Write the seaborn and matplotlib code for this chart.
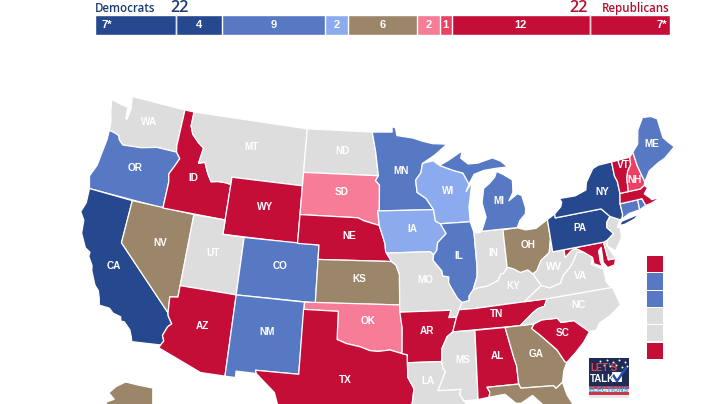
import matplotlib
matplotlib.use('Agg')
import matplotlib.pyplot as plt
import numpy as np
import seaborn as sns

sns.set_theme(style='white')
plt.rcParams['font.family'] = ['Open Sans', 'DejaVu Sans']

DARK = '#26488f'
BLUE = '#5778c2'
LIGHT = '#8cabee'
TAN = '#9c8669'
PINK = '#f67c97'
MIDRED = '#ee4062'
RED = '#c40e37'
GREY = '#dddddd'

# seat counts along the top bar
seat_labels = ['7*', '4', '9', '2', '6', '2', '1', '12', '7*']
seat_values = [7, 4, 9, 2, 6, 2, 1, 12, 7]
seat_colors = [DARK, DARK, BLUE, LIGHT, TAN, PINK, MIDRED, RED, RED]
dem_total = 22
rep_total = 22

# the column of squares on the right
special_colors = [RED, BLUE, BLUE, GREY, GREY, RED]

state_colors = {
    'WA': GREY, 'OR': BLUE, 'CA': DARK, 'NV': TAN, 'ID': RED, 'MT': GREY, 'WY': RED, 'UT': GREY,
    'CO': BLUE, 'AZ': RED, 'NM': BLUE, 'ND': GREY, 'SD': PINK, 'NE': RED, 'KS': TAN, 'OK': PINK,
    'TX': RED, 'MN': BLUE, 'IA': LIGHT, 'MO': GREY, 'AR': RED, 'LA': GREY, 'WI': LIGHT, 'IL': BLUE,
    'IN': GREY, 'OH': TAN, 'KY': GREY, 'TN': RED, 'MS': GREY, 'AL': RED, 'GA': TAN, 'FL': TAN,
    'SC': RED, 'NC': GREY, 'VA': GREY, 'WV': GREY, 'MD': RED, 'DE': GREY, 'PA': DARK, 'NJ': GREY,
    'NY': DARK, 'LI': DARK, 'CT': BLUE, 'RI': BLUE, 'MA': RED, 'VT': RED, 'NH': MIDRED, 'ME': BLUE,
    'MI': BLUE, 'UP': BLUE,
}

# rough state outlines, lon/lat
outlines = {
    'WA': [(-124.7,48.38),(-123.2,48.2),(-122.85,48.2),(-122.75,47.4),(-122.6,47.35),(-122.5,48.2),(-122.75,49),(-117.03,49),(-117.04,46.42),(-116.92,45.99),(-118.98,46),(-119.3,45.93),(-120.5,45.7),(-121.2,45.65),(-122.3,45.55),(-122.8,45.85),(-122.95,46.1),(-123.4,46.2),(-124,46.27),(-124.1,46.9),(-124.4,47.5)],
    'OR': [(-124,46.27),(-123.4,46.2),(-122.95,46.1),(-122.8,45.85),(-122.3,45.55),(-121.2,45.65),(-120.5,45.7),(-119.3,45.93),(-118.98,46),(-116.92,45.99),(-116.47,45.6),(-116.85,44.95),(-117.2,44.4),(-117.03,43.85),(-117.03,42),(-124.2,42),(-124.55,42.84),(-124.15,43.7),(-124.05,44.7),(-123.95,45.6)],
    'CA': [(-124.2,42),(-120,42),(-120,39),(-114.63,35),(-114.57,34.8),(-114.14,34.3),(-114.43,34.05),(-114.72,33.4),(-114.52,33.03),(-114.72,32.72),(-117.12,32.53),(-117.25,32.85),(-117.5,33.3),(-118.1,33.75),(-118.4,33.75),(-118.5,34.03),(-119.2,34.15),(-119.6,34.42),(-120.5,34.45),(-120.65,34.9),(-120.9,35.4),(-121.3,35.7),(-121.9,36.6),(-122,36.95),(-122.5,37.5),(-122.5,37.8),(-123,38),(-123.7,38.9),(-123.85,39.8),(-124.35,40.3),(-124.1,41)],
    'NV': [(-120,42),(-114.04,42),(-114.05,36.2),(-114.75,36.1),(-114.63,35),(-120,39)],
    'ID': [(-117.03,49),(-116.05,49),(-116.05,48),(-115.7,47.45),(-114.95,46.95),(-114.35,46.65),(-114.55,45.55),(-113.95,45.7),(-113.45,44.95),(-113,44.45),(-112.3,44.55),(-111.5,44.55),(-111.05,44.48),(-111.05,42),(-117.03,42),(-117.03,43.85),(-117.2,44.4),(-116.85,44.95),(-116.47,45.6),(-116.92,45.99),(-117.04,46.42)],
    'MT': [(-116.05,49),(-104.05,49),(-104.05,45),(-111.05,45),(-111.05,44.48),(-111.5,44.55),(-112.3,44.55),(-113,44.45),(-113.45,44.95),(-113.95,45.7),(-114.55,45.55),(-114.35,46.65),(-114.95,46.95),(-115.7,47.45),(-116.05,48)],
    'WY': [(-111.05,45),(-104.05,45),(-104.05,41),(-111.05,41)],
    'UT': [(-114.04,42),(-111.05,42),(-111.05,41),(-109.05,41),(-109.05,37),(-114.05,37)],
    'CO': [(-109.05,41),(-102.05,41),(-102.05,37),(-109.05,37)],
    'AZ': [(-114.05,37),(-109.05,37),(-109.05,31.33),(-111.07,31.33),(-114.81,32.5),(-114.72,32.72),(-114.52,33.03),(-114.72,33.4),(-114.43,34.05),(-114.14,34.3),(-114.57,34.8),(-114.63,35),(-114.75,36.1),(-114.05,36.2)],
    'NM': [(-109.05,37),(-103,37),(-103.04,32),(-106.62,32),(-106.53,31.78),(-108.2,31.78),(-108.2,31.33),(-109.05,31.33)],
    'ND': [(-104.05,49),(-97.23,49),(-96.85,47.6),(-96.56,45.94),(-104.05,45.94)],
    'SD': [(-104.05,45.94),(-96.56,45.94),(-96.85,45.6),(-96.45,45.3),(-96.45,43.5),(-96.6,43.5),(-96.45,42.49),(-97.9,42.8),(-98.5,43),(-104.05,43)],
    'NE': [(-104.05,43),(-98.5,43),(-97.9,42.8),(-96.45,42.49),(-96.1,41.7),(-95.9,41.2),(-95.85,40.7),(-95.31,40),(-102.05,40),(-102.05,41),(-104.05,41)],
    'KS': [(-102.05,40),(-95.31,40),(-94.9,39.75),(-94.6,39.1),(-94.62,37),(-102.05,37)],
    'OK': [(-103,37),(-94.62,37),(-94.43,35.4),(-94.48,33.64),(-95.5,33.9),(-96.5,33.8),(-97.2,33.85),(-98,34.1),(-99.2,34.3),(-100,34.56),(-100,36.5),(-103,36.5)],
    'TX': [(-106.62,32),(-103.04,32),(-103.04,36.5),(-100,36.5),(-100,34.56),(-99.2,34.3),(-98,34.1),(-97.2,33.85),(-96.5,33.8),(-95.5,33.9),(-94.48,33.64),(-94.04,33.55),(-94.04,32),(-93.55,31.2),(-93.7,30.3),(-93.85,29.7),(-94.7,29.35),(-95.3,28.9),(-96.4,28.4),(-97.2,27.7),(-97.4,26.9),(-97.15,25.96),(-98.2,26.05),(-99.1,26.4),(-99.5,27.5),(-100.3,28.3),(-100.8,29.25),(-101.4,29.77),(-102.3,29.88),(-102.7,29.7),(-103.15,28.98),(-104,29.3),(-104.5,29.65),(-104.9,30.6),(-106,31.4),(-106.53,31.78)],
    'MN': [(-97.23,49),(-95.15,49),(-95.15,49.38),(-94.8,49.3),(-94.65,48.75),(-93,48.55),(-92,48.3),(-91,48.1),(-89.5,48),(-90.8,47.3),(-92.1,46.75),(-92.3,46.1),(-92.85,45.6),(-92.75,44.75),(-91.9,44.3),(-91.22,43.5),(-96.45,43.5),(-96.45,45.3),(-96.85,45.6),(-96.56,45.94),(-96.85,47.6)],
    'IA': [(-96.45,43.5),(-91.22,43.5),(-91.1,42.7),(-90.64,42.5),(-90.15,41.8),(-91,41.2),(-91.1,40.7),(-91.42,40.38),(-91.73,40.61),(-95.77,40.58),(-95.85,40.7),(-95.9,41.2),(-96.1,41.7),(-96.45,42.49),(-96.6,43.5)],
    'MO': [(-95.77,40.58),(-91.73,40.61),(-91.42,40.38),(-91.5,40),(-90.75,39.25),(-90.7,38.9),(-90.15,38.8),(-90.2,38.4),(-89.9,37.9),(-89.5,37.3),(-89.13,36.98),(-89.42,36.5),(-89.7,36),(-90.37,36),(-90.15,36.5),(-94.62,36.5),(-94.62,37),(-94.6,39.1),(-94.9,39.75),(-95.31,40)],
    'AR': [(-94.62,36.5),(-90.15,36.5),(-90.37,36),(-89.7,36),(-90.1,35),(-90.6,34.7),(-91.1,33.9),(-91.17,33),(-94.04,33),(-94.04,33.55),(-94.48,33.64),(-94.43,35.4)],
    'LA': [(-94.04,33),(-91.17,33),(-91.1,32.5),(-90.9,32.3),(-91.6,31),(-89.73,31),(-89.85,30.65),(-89.55,30.18),(-89.4,30.05),(-89.4,29.75),(-89.2,29.3),(-89.6,29.25),(-90.2,29.1),(-91.3,29.3),(-91.8,29.5),(-92.3,29.55),(-93.2,29.78),(-93.85,29.7),(-93.7,30.3),(-93.55,31.2),(-94.04,32)],
    'WI': [(-92.1,46.75),(-91,46.9),(-90.4,46.55),(-89.1,46.15),(-88.1,45.9),(-87.6,45.1),(-87.95,44.6),(-87.3,45.2),(-87.5,44.5),(-87.8,43.5),(-87.8,42.49),(-90.64,42.5),(-91.1,42.7),(-91.22,43.5),(-91.9,44.3),(-92.75,44.75),(-92.85,45.6),(-92.3,46.1)],
    'IL': [(-90.64,42.5),(-87.8,42.49),(-87.53,41.72),(-87.53,39.35),(-87.6,38.7),(-88.05,37.8),(-88.45,37.4),(-88.5,37.07),(-89.13,36.98),(-89.5,37.3),(-89.9,37.9),(-90.2,38.4),(-90.15,38.8),(-90.7,38.9),(-90.75,39.25),(-91.5,40),(-91.42,40.38),(-91.1,40.7),(-91,41.2),(-90.15,41.8)],
    'IN': [(-87.53,41.72),(-87,41.67),(-86.8,41.76),(-84.8,41.76),(-84.82,39.1),(-85.2,38.7),(-85.45,38.7),(-85.75,38.27),(-86.3,38.1),(-86.8,37.95),(-87.6,37.9),(-88.05,37.8),(-87.6,38.7),(-87.53,39.35)],
    'OH': [(-84.8,41.7),(-83.45,41.73),(-82.7,41.5),(-81.7,41.5),(-80.52,41.98),(-80.52,40.64),(-80.85,39.7),(-81.7,39.25),(-82.2,38.6),(-82.6,38.42),(-83,38.73),(-83.7,38.63),(-84.3,38.95),(-84.82,39.1)],
    'KY': [(-89.42,36.5),(-89.13,36.98),(-88.5,37.07),(-88.45,37.4),(-88.05,37.8),(-87.6,37.9),(-86.8,37.95),(-86.3,38.1),(-85.75,38.27),(-85.45,38.7),(-85.2,38.7),(-84.82,39.1),(-84.3,38.95),(-83.7,38.63),(-83,38.73),(-82.6,38.42),(-82,37.55),(-83.68,36.6),(-88.07,36.5)],
    'TN': [(-90.1,35),(-89.7,36),(-89.42,36.5),(-88.07,36.5),(-83.68,36.6),(-81.68,36.59),(-82,36.1),(-82.6,36),(-83.1,35.75),(-84.3,35)],
    'MS': [(-90.1,35),(-88.2,35),(-88.4,30.2),(-89.55,30.18),(-89.85,30.65),(-89.73,31),(-91.6,31),(-90.9,32.3),(-91.1,32.5),(-91.17,33),(-91.1,33.9),(-90.6,34.7)],
    'AL': [(-88.2,35),(-85.6,35),(-85.15,32.85),(-85,32.3),(-85,31),(-87.6,31),(-87.4,30.65),(-87.5,30.3),(-88,30.25),(-88.4,30.2)],
    'GA': [(-85.6,35),(-83.1,35),(-83.35,34.7),(-82.75,34.2),(-81.5,33),(-81,32.1),(-80.85,32.03),(-81.2,31.5),(-81.45,30.72),(-82.05,30.36),(-82.2,30.57),(-84.87,30.7),(-85,31),(-85,32.3),(-85.15,32.85)],
    'FL': [(-87.6,31),(-85,31),(-84.87,30.7),(-82.2,30.57),(-82.05,30.36),(-81.45,30.72),(-81.25,29.8),(-80.5,28.3),(-80.03,26.8),(-80.15,25.7),(-80.4,25.2),(-81.1,25.15),(-81.8,26.1),(-82.2,26.9),(-82.75,27.8),(-82.7,28.7),(-83.4,29.5),(-84,30.1),(-85,29.65),(-85.4,29.7),(-86.2,30.4),(-87.5,30.3),(-87.4,30.65)],
    'SC': [(-83.1,35),(-82.4,35.2),(-81.05,35.15),(-80.8,34.82),(-79.68,34.8),(-78.55,33.86),(-79.2,33.2),(-80,32.6),(-80.85,32.03),(-81,32.1),(-81.5,33),(-82.75,34.2),(-83.35,34.7)],
    'NC': [(-84.3,35),(-83.1,35.75),(-82.6,36),(-82,36.1),(-81.68,36.59),(-75.87,36.55),(-75.5,35.25),(-76.5,34.7),(-77.6,34.3),(-77.95,33.87),(-78.55,33.86),(-79.68,34.8),(-80.8,34.82),(-81.05,35.15),(-82.4,35.2),(-83.1,35)],
    'VA': [(-83.68,36.6),(-82,37.55),(-81.3,37.3),(-80.3,37.5),(-79.95,38),(-79.3,38.42),(-78.87,38.77),(-78.35,39.4),(-77.75,39.32),(-77.05,38.85),(-77.3,38.4),(-76.3,37.9),(-76.3,37),(-75.97,36.55),(-75.87,36.55),(-81.68,36.59)],
    'WV': [(-82.6,38.42),(-82.2,38.6),(-81.7,39.25),(-80.85,39.7),(-80.52,40.64),(-80.52,39.72),(-79.48,39.72),(-79.48,39.2),(-78.8,39.6),(-78.35,39.65),(-77.75,39.32),(-78.35,39.4),(-78.87,38.77),(-79.3,38.42),(-79.95,38),(-80.3,37.5),(-81.3,37.3),(-82,37.55)],
    'MD': [(-79.48,39.72),(-75.79,39.72),(-75.7,38.46),(-75.05,38.45),(-75.25,38.03),(-75.9,37.95),(-76.2,38.35),(-76.15,38.9),(-76.1,39.4),(-76.4,39.2),(-76.45,38.5),(-76.35,38.1),(-77.05,38.4),(-77.05,38.85),(-77.75,39.32),(-78.35,39.65),(-78.8,39.6),(-79.48,39.2)],
    'DE': [(-75.79,39.72),(-75.4,39.8),(-75.55,39.45),(-75.05,38.45),(-75.7,38.46)],
    'PA': [(-80.52,41.98),(-79.76,42.27),(-79.76,42),(-75.35,42),(-74.7,41.36),(-75.13,40.98),(-75.2,40.65),(-74.72,40.15),(-75.4,39.8),(-75.79,39.72),(-80.52,39.72)],
    'NJ': [(-74.7,41.36),(-73.9,41),(-74.25,40.5),(-74,40.45),(-74.1,39.75),(-74.9,38.95),(-75.55,39.45),(-75.4,39.8),(-74.72,40.15),(-75.2,40.65),(-75.13,40.98)],
    'NY': [(-79.76,42.27),(-79.06,42.7),(-78.9,43),(-79.05,43.27),(-77.5,43.25),(-76.4,43.5),(-76.2,44),(-75.3,44.85),(-74.7,45),(-73.35,45.01),(-73.4,44),(-73.25,43.6),(-73.28,42.75),(-73.5,42.05),(-73.5,41.3),(-73.65,41),(-73.9,41),(-74.7,41.36),(-75.35,42),(-79.76,42)],
    'LI': [(-74,40.6),(-73.75,40.85),(-72.6,40.98),(-72,41.05),(-72.5,40.8),(-73.5,40.6)],
    'CT': [(-73.5,42.05),(-71.8,42.02),(-71.85,41.32),(-72.9,41.25),(-73.65,41),(-73.5,41.3)],
    'RI': [(-71.8,42.02),(-71.38,42.02),(-71.2,41.5),(-71.85,41.32)],
    'MA': [(-73.5,42.05),(-73.28,42.75),(-71.3,42.7),(-70.85,42.87),(-70.6,42.65),(-71.05,42.3),(-70.65,41.95),(-70.5,41.78),(-70,41.78),(-70.05,42.05),(-69.95,41.7),(-70.65,41.55),(-71.2,41.5),(-71.38,42.02),(-71.8,42.02)],
    'VT': [(-73.35,45.01),(-71.5,45.01),(-71.6,44.5),(-72.05,44.1),(-72.3,43.6),(-72.46,42.73),(-73.28,42.75),(-73.25,43.6),(-73.4,44)],
    'NH': [(-71.5,45.01),(-71.08,45.3),(-71,44.3),(-70.7,43.1),(-70.85,42.87),(-71.3,42.7),(-72.46,42.73),(-72.3,43.6),(-72.05,44.1),(-71.6,44.5)],
    'ME': [(-71.08,45.3),(-70.4,45.75),(-70,46.7),(-69.2,47.45),(-68.35,47.35),(-67.8,47.07),(-67.8,45.7),(-67.45,45.3),(-67,44.85),(-68.2,44.3),(-69,44.1),(-70,43.75),(-70.7,43.1),(-71,44.3)],
    'MI': [(-86.8,41.76),(-84.8,41.76),(-83.45,41.73),(-83.1,42.2),(-82.5,42.6),(-82.4,43),(-82.6,43.9),(-83,44.05),(-83.9,43.65),(-83.4,44.2),(-83.3,45.05),(-84.1,45.5),(-84.75,45.78),(-85,45.4),(-85.6,45),(-86.2,44.7),(-86.5,43.7),(-86.25,42.7)],
    'UP': [(-90.4,46.55),(-89.1,46.15),(-88.1,45.9),(-87.6,45.1),(-87,45.75),(-86,45.95),(-84.75,46),(-83.6,46),(-84.2,46.45),(-85,46.75),(-86.5,46.5),(-87.5,46.5),(-88.2,46.95),(-88,47.45),(-89.5,46.85)],
}
alaska = [(-141,69.6),(-141,60.3),(-139,59.9),(-148,60),(-152,59),(-156,57),(-162,55),(-165,54.5),(-160,58.8),(-162,60),(-165,61),(-166,62),(-161,64),(-166,64.5),(-168,65.6),(-163,66.5),(-166,68.3),(-162,70),(-156.5,71.3),(-150,70.5)]

label_pos = {
    'WA': (149,122), 'OR': (135,168), 'CA': (114,266), 'NV': (160,243), 'ID': (193,178), 'MT': (252,147),
    'ND': (342,151), 'SD': (342,192), 'WY': (265,207), 'NE': (349,236), 'UT': (213,253), 'CO': (280,266),
    'KS': (359,279), 'AZ': (202,326), 'NM': (267,332), 'OK': (368,321), 'TX': (345,380), 'MN': (401,171),
    'WI': (448,191), 'MI': (499,201), 'IA': (412,229), 'IL': (459,256), 'IN': (493,253), 'OH': (528,245),
    'MO': (425,280), 'KY': (513,286), 'WV': (554,267), 'VA': (581,276), 'NC': (578,305), 'TN': (496,314),
    'AR': (427,331), 'SC': (563,333), 'AL': (497,356), 'GA': (536,354), 'MS': (463,360), 'LA': (428,381),
    'PA': (580,228), 'NY': (602,192), 'ME': (652,144), 'VT': (623,165), 'NH': (635,180),
}
# the two 7* labels sit at the outer ends of the bar, not mid segment
seat_label_at = [1.05, 9, 15.5, 21, 25, 29, 30.5, 37, 49.3]


def albers(points):
    # standard lower-48 Albers, scaled to the picture
    lon, lat = np.radians(np.array(points)).T
    p1, p2, p0, l0 = np.radians([29.5, 45.5, 37.5, -96])
    n = (np.sin(p1) + np.sin(p2)) / 2
    c = np.cos(p1) ** 2 + 2 * n * np.sin(p1)
    rho = np.sqrt(c - 2 * n * np.sin(lat)) / n
    rho0 = np.sqrt(c - 2 * n * np.sin(p0)) / n
    theta = n * (lon - l0)
    return 384 + 823 * rho * np.sin(theta), 297.8 - 823 * (rho0 - rho * np.cos(theta))


fig = plt.figure(figsize=(7.2, 4.04), dpi=100)
ax = fig.add_axes([0, 0, 1, 1])
ax.set_xlim(0, 720)
ax.set_ylim(404, 0)
ax.axis('off')

for st, pts in outlines.items():
    x, y = albers(pts)
    ax.fill(x, y, facecolor=state_colors[st], edgecolor='white', linewidth=0.9, joinstyle='round')

ak = np.array(alaska)
ax.fill(130 + (ak[:, 0] + 154) * 1.75, 382 + (71.3 - ak[:, 1]) * 3.6, facecolor=TAN, edgecolor='white', linewidth=0.8)

for st, (lx, ly) in label_pos.items():
    ax.text(lx, ly, st, color='white', fontsize=7.2, fontweight='bold', ha='center', va='center',
            family=['Liberation Sans', 'DejaVu Sans'])

# squares on the right, from the list above
for i, col in enumerate(special_colors):
    ax.add_patch(plt.Rectangle((647, 256 + i * 17.3), 16, 16.2, facecolor=col, edgecolor='none'))

# logo
ax.add_patch(plt.Rectangle((589, 358), 40, 40, facecolor='#1d2b57', edgecolor='none'))
for yy, col in [(386, '#c8384a'), (389, '#e8e8e8'), (392, '#c8384a'), (395, '#e8e8e8')]:
    ax.add_patch(plt.Rectangle((589, yy), 40, 3, facecolor=col, edgecolor='none'))
ax.scatter([600, 607, 613, 619, 625, 604, 610, 616, 622, 627], [361, 360, 362, 360, 362, 365, 366, 365, 367, 366],
           s=2, color='white', linewidths=0)
ax.text(590, 368, "LET'S", color='#d8474f', fontsize=7, fontweight='bold', va='center',
        family=['Liberation Sans', 'DejaVu Sans'])
ax.text(590, 379, 'TALK', color='white', fontsize=7, fontweight='bold', va='center',
        family=['Liberation Sans', 'DejaVu Sans'])
ax.text(609, 391, 'ELECTIONS', color='#3fa4e6', fontsize=5, fontweight='bold', ha='center', va='center',
        family=['Liberation Sans', 'DejaVu Sans'])
ax.add_patch(plt.Rectangle((611, 371), 11, 11, facecolor='white', edgecolor='#1d2b57', linewidth=0.8))
ax.plot([613, 617, 626], [375, 381, 368], color='#2b4fa8', lw=1.8, solid_capstyle='round')

# header texts
ax.text(95, 12, 'Democrats', color='#1e3a73', fontsize=8.3, fontweight='semibold', va='baseline')
ax.text(179.5, 11.8, str(dem_total), color='#1e3a73', fontsize=11.5, fontweight='semibold', ha='center', va='baseline')
ax.text(670, 12, 'Republicans', color='#b11031', fontsize=8.3, fontweight='semibold', ha='right', va='baseline')
ax.text(578, 11.8, str(rep_total), color='#b11031', fontsize=11.5, fontweight='semibold', ha='center', va='baseline')

# stacked seat bar, drawn back to front from running totals
bar_ax = fig.add_axes([95 / 720, 1 - 35 / 404, 575 / 720, 20 / 404])
running = np.cumsum(seat_values)
for total, col in zip(running[::-1], seat_colors[::-1]):
    sns.barplot(x=[total], y=['seats'], color=col, saturation=1, width=1, orient='h', ax=bar_ax)
bar_ax.set_xlim(0, running[-1])
bar_ax.set_ylim(0.5, -0.5)
bar_ax.axis('off')
bar_ax.axvline(7, color='#dfe6f5', lw=1)
bar_ax.axvline(43, color='#f2d5da', lw=1)
for at, lab in zip(seat_label_at, seat_labels):
    bar_ax.text(at, 0, lab, color='white', fontsize=8, fontweight='bold', ha='center', va='center',
                family=['Liberation Sans', 'DejaVu Sans'])

fig.savefig('out.png', dpi=100)
